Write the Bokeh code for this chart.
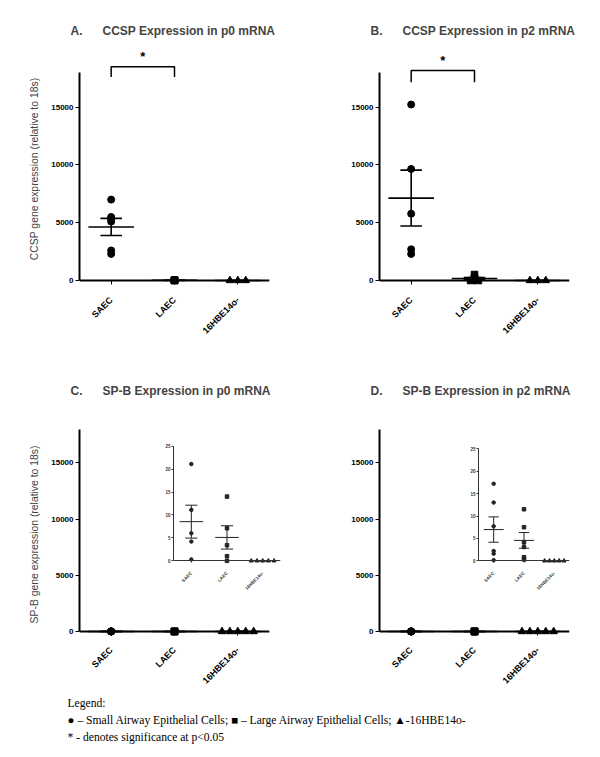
import math
import numpy as np
from bokeh.plotting import figure
from bokeh.models import Range1d, FixedTicker, GridBox, LinearAxis, Title
from bokeh.core.properties import value
from bokeh.embed import file_html
from bokeh.resources import INLINE

# ---------------- data ----------------
groups = ["SAEC", "LAEC", "16HBE14o-"]

# A. CCSP expression in p0 mRNA (relative to 18s)
ccsp_p0_saec = [7000, 5500, 5300, 5100, 2600, 2300]
ccsp_p0_laec = [40, 25, 15, 10, 5, 0]
ccsp_p0_hbe = [0, 0, 0]

# B. CCSP expression in p2 mRNA
ccsp_p2_saec = [15230, 9650, 5780, 2700, 2300]
ccsp_p2_laec = [520, 300, 150, 60, 0, 0]
ccsp_p2_hbe = [0, 0, 0]

# C. SP-B expression in p0 mRNA
spb_p0_saec = [21.1, 11.1, 6.0, 4.2, 0.3]
spb_p0_laec = [14.0, 7.1, 3.4, 1.0, 0.0]
spb_p0_hbe = [0, 0, 0, 0, 0]

# D. SP-B expression in p2 mRNA
spb_p2_saec = [17.2, 13.0, 7.7, 2.2, 1.6, 0.15]
spb_p2_laec = [11.5, 7.5, 4.15, 3.1, 0.8, 0.3]
spb_p2_hbe = [0, 0, 0, 0, 0]

main_ticks = [0, 5000, 10000, 15000]
inset_ticks = [0, 5, 10, 15, 20, 25]

titles = ["A.", "B.", "C.", "D."]
title_texts = ["CCSP Expression in p0 mRNA", "CCSP Expression in p2 mRNA",
               "SP-B Expression in p0 mRNA", "SP-B Expression in p2 mRNA"]
ylabels = ["CCSP gene expression  (relative to 18s)", None,
           "SP-B gene expression  (relative to 18s)", None]

# significance brackets (SAEC vs LAEC): bracket top, leg bottom, star height
sig_A = [18500, 17600, 19350]
sig_B = [18170, 17160, 19040]

legend_lines = ["Legend:",
                "\u25cf \u2013 Small Airway Epithelial Cells; \u25a0 \u2013 Large Airway Epithelial Cells; \u25b2-16HBE14o-",
                "* - denotes significance at p<0.05"]

FONT = "Liberation Sans"
MARKERS = ["circle", "square", "triangle"]


def spread(vals, step):
    vals = np.asarray(vals, float)
    off = np.zeros(len(vals))
    for v in np.unique(vals):
        idx = np.where(vals == v)[0]
        n = len(idx)
        if n > 1:
            off[idx] = (np.arange(n) - (n - 1) / 2) * step
    return off


def draw_groups(p, series, step, sizes, mean_half, cap_half, lw, color):
    pos = np.arange(1, len(groups) + 1)
    for i, vals in enumerate(series):
        vals = np.asarray(vals, float)
        xs = pos[i] + spread(vals, step)
        p.scatter(xs, vals, marker=MARKERS[i], size=sizes[i], color=color)
        m = vals.mean()
        s = vals.std(ddof=1) / math.sqrt(len(vals)) if len(vals) > 1 else 0.0
        p.segment(x0=[pos[i] - mean_half, pos[i], pos[i] - cap_half, pos[i] - cap_half],
                  x1=[pos[i] + mean_half, pos[i], pos[i] + cap_half, pos[i] + cap_half],
                  y0=[m, m - s, m + s, m - s], y1=[m, m + s, m + s, m - s],
                  line_width=lw, color=color)


def style_axes(p, ticks, ylim_top, tick_font, line_w, color, xlab_font,
               tick_len, xlab_standoff):
    # labels-only axis at the frame bottom
    xl = p.xaxis[0]
    xl.ticker = FixedTicker(ticks=[1, 2, 3])
    xl.major_label_overrides = {1: groups[0], 2: groups[1], 3: groups[2]}
    xl.major_label_orientation = math.pi / 4
    xl.major_label_text_font = FONT
    xl.major_label_text_font_size = xlab_font
    xl.major_label_text_font_style = "bold"
    xl.major_label_text_color = color
    xl.major_label_standoff = xlab_standoff
    xl.axis_line_color = None
    xl.major_tick_line_color = None
    xl.minor_tick_line_color = None
    # axis line + ticks at y = 0
    xa = LinearAxis(fixed_location=0, bounds=(0.5, 3.5), ticker=FixedTicker(ticks=[1, 2, 3]),
                    major_label_text_font_size="0px", major_label_text_alpha=0,
                    axis_line_width=line_w, axis_line_color=color,
                    major_tick_in=0, major_tick_out=tick_len, major_tick_line_color=color,
                    minor_tick_line_color=None)
    p.add_layout(xa, "below")
    ya = p.yaxis[0]
    ya.bounds = (0, ylim_top)
    ya.ticker = FixedTicker(ticks=ticks)
    ya.major_label_text_font = FONT
    ya.major_label_text_font_size = tick_font
    ya.major_label_text_font_style = "bold"
    ya.major_label_text_color = color
    ya.axis_line_width = line_w
    ya.axis_line_color = color
    ya.major_tick_in = 0
    ya.major_tick_out = tick_len
    ya.major_tick_line_color = color
    ya.minor_tick_line_color = None
    p.xgrid.visible = False
    p.ygrid.visible = False
    p.outline_line_color = None


def main_panel(idx, series, yr, width, height, mb, title_standoff, ylab_offset, sig=None):
    p = figure(width=width, height=height, x_range=Range1d(0.5, 3.5), y_range=Range1d(*yr),
               output_backend="svg", toolbar_location=None,
               min_border_left=mb[0], min_border_right=mb[1], min_border_top=mb[2],
               min_border_bottom=mb[3])
    p.title.text = titles[idx] + "\u00a0" * 6 + title_texts[idx]
    p.title.text_font = FONT
    p.title.text_font_size = "12px"
    p.title.text_font_style = "bold"
    p.title.align = "left"
    p.title.offset = -9
    p.title.standoff = title_standoff
    draw_groups(p, series, 0.125, [7, 6.5, 7.5], 0.36, 0.17, 1.6, "black")
    style_axes(p, main_ticks, 18000, "8px", 2, "black", "9px", 4, 2)
    p.yaxis.major_label_standoff = 2
    if ylabels[idx]:
        p.add_layout(Title(text=ylabels[idx], align="center", offset=ylab_offset,
                           text_font=FONT, text_font_size="10.4px", text_font_style="normal",
                           standoff=18), "left")
    if sig is not None:
        top, bot, star = sig
        p.line([1, 1, 2, 2], [bot, top, top, bot], line_width=1.5, color="black")
        p.text([1.5], [star], text=["*"], text_align="center", text_baseline="middle",
               text_font=value(FONT), text_font_size="13px", text_font_style="bold")
    return p


def inset_panel(series, yr, width, height, mb):
    p = figure(width=width, height=height, x_range=Range1d(0.5, 3.5), y_range=Range1d(*yr),
               output_backend="svg", toolbar_location=None,
               min_border_left=mb[0], min_border_right=mb[1], min_border_top=mb[2],
               min_border_bottom=mb[3], background_fill_color=None, border_fill_color=None)
    draw_groups(p, series, 0.16, [3.5, 3.5, 4], 0.33, 0.17, 1, "#222222")
    style_axes(p, inset_ticks, 25, "4.5px", 1, "#333333", "4.5px", 2, 1)
    p.yaxis.major_label_standoff = 1
    return p


pA = main_panel(0, [ccsp_p0_saec, ccsp_p0_laec, ccsp_p0_hbe], (-865, 20423), 292, 337,
                (71, 31, 36, 55), 13, -13, sig_A)
pB = main_panel(1, [ccsp_p2_saec, ccsp_p2_laec, ccsp_p2_hbe], (-865, 20423), 292, 337,
                (79, 23, 36, 55), 13, 0, sig_B)
pC = main_panel(2, [spb_p0_saec, spb_p0_laec, spb_p0_hbe], (-798, 18326), 292, 347,
                (71, 31, 80, 44), 56, 0)
pD = main_panel(3, [spb_p2_saec, spb_p2_laec, spb_p2_hbe], (-798, 18326), 292, 347,
                (79, 23, 80, 44), 56, 0)

iC = inset_panel([spb_p0_saec, spb_p0_laec, spb_p0_hbe], (-1.02, 26.23), 130, 160, (18, 5, 5, 29))
iD = inset_panel([spb_p2_saec, spb_p2_laec, spb_p2_hbe], (-1.04, 26.84), 132, 160, (18, 13, 5, 29))

# legend spans from the page edge so its frame is not aligned with the panels
leg = figure(width=592, height=57, x_range=Range1d(0, 1), y_range=Range1d(2.706, -0.647),
             x_axis_type=None, y_axis_type=None,
             output_backend="svg", toolbar_location=None, min_border_left=67,
             min_border_right=0, min_border_top=0, min_border_bottom=0)
leg.text(x=[0] * len(legend_lines), y=list(range(len(legend_lines))), text=legend_lines,
         text_align="left", text_baseline="middle", text_font=value("Liberation Serif"),
         text_font_size="11.6px", text_color="black")
leg.xgrid.visible = False
leg.ygrid.visible = False
leg.outline_line_color = None

# first row/column are the page margin
grid = GridBox(children=[(pA, 1, 1, 1, 3), (pB, 1, 4, 1, 2),
                         (pC, 2, 1, 3, 3), (pD, 2, 4, 3, 2),
                         (iC, 3, 2, 1, 1), (iD, 3, 5, 1, 1),
                         (leg, 5, 0, 1, 6)],
               rows=["8px", "337px", "90px", "160px", "97px", "57px"],
               cols=["8px", "147px", "130px", "15px", "160px", "132px"],
               spacing=0)

open("out.html", "w").write(file_html(grid, INLINE))
